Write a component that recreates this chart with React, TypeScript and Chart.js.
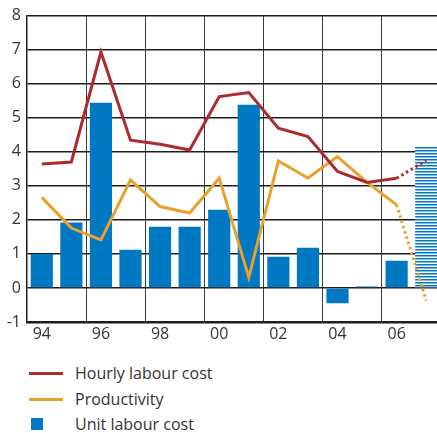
import React, { useEffect, useRef } from 'react';
import { Chart, registerables } from 'chart.js';

Chart.register(...registerables);

const years = ['94', '95', '96', '97', '98', '99', '00', '01', '02', '03', '04', '05', '06', '07'];
const unitLabourCost = [1.0, 1.92, 5.44, 1.12, 1.8, 1.8, 2.3, 5.38, 0.92, 1.18, -0.45, 0.04, 0.8, 4.15];
const hourlyLabourCost = [3.64, 3.7, 6.93, 4.34, 4.22, 4.05, 5.62, 5.74, 4.69, 4.45, 3.42, 3.1, 3.22, 3.75];
const productivity = [2.66, 1.76, 1.41, 3.17, 2.39, 2.2, 3.23, 0.31, 3.73, 3.23, 3.86, 3.1, 2.44, -0.37];
const forecastIndex = 13;
const yMin = -1;
const yMax = 8;

const BLUE = '#0079c2';
const RED = '#ad2a31';
const ORANGE = '#e8a12b';
const TEXT = '#333333';
const GRID = '#1e1e1e';
const FONT = '"Open Sans", sans-serif';

const legendItems = [
  { label: 'Hourly labour cost', color: RED, kind: 'line' },
  { label: 'Productivity', color: ORANGE, kind: 'line' },
  { label: 'Unit labour cost', color: BLUE, kind: 'box' },
];

function makeStripePattern(ctx: CanvasRenderingContext2D) {
  const c = document.createElement('canvas');
  c.width = 4;
  c.height = 3;
  const p = c.getContext('2d')!;
  p.fillStyle = '#ffffff';
  p.fillRect(0, 0, 4, 3);
  p.fillStyle = BLUE;
  p.fillRect(0, 0, 4, 1.5);
  return ctx.createPattern(c, 'repeat');
}

export default function App() {
  const ref = useRef<HTMLCanvasElement | null>(null);

  useEffect(() => {
    const canvas = ref.current!;
    const ctx = canvas.getContext('2d')!;
    const stripe = makeStripePattern(ctx);
    const barColors = unitLabourCost.map((_, i) => (i === forecastIndex ? stripe : BLUE));
    const dash = (c: any) => (c.p1DataIndex === forecastIndex ? [2.5, 3] : undefined);

    const chart = new Chart(ctx, {
      type: 'bar',
      data: {
        labels: years,
        datasets: [
          {
            type: 'line',
            label: 'Hourly labour cost',
            data: hourlyLabourCost,
            borderColor: RED,
            backgroundColor: RED,
            borderWidth: 3,
            pointRadius: 0,
            tension: 0,
            order: 1,
            segment: { borderDash: dash },
          } as any,
          {
            type: 'line',
            label: 'Productivity',
            data: productivity,
            borderColor: ORANGE,
            backgroundColor: ORANGE,
            borderWidth: 3,
            pointRadius: 0,
            tension: 0,
            order: 2,
            segment: { borderDash: dash },
          } as any,
          {
            type: 'bar',
            label: 'Unit labour cost',
            data: unitLabourCost,
            backgroundColor: barColors as any,
            borderWidth: 0,
            barPercentage: 0.75,
            categoryPercentage: 1,
            order: 3,
          },
        ],
      },
      options: {
        responsive: false,
        animation: false,
        layout: { padding: { top: 15, left: 0, right: 0, bottom: 0 } },
        plugins: {
          legend: { display: false },
          tooltip: { enabled: false },
        },
        scales: {
          x: {
            offset: true,
            afterFit: (s: any) => {
              s.height = 23;
            },
            grid: {
              offset: true,
              drawTicks: false,
              lineWidth: 1,
              color: (c: any) => (c.index % 2 === 0 ? '#3a3a3a' : 'rgba(0,0,0,0)'),
            },
            border: { display: true, color: GRID, width: 2.5 },
            ticks: {
              autoSkip: false,
              maxRotation: 0,
              padding: 3,
              color: TEXT,
              font: { family: FONT, size: 16 },
              callback: (_v: any, i: number) => (i % 2 === 0 && i < forecastIndex ? years[i] : ''),
            },
          },
          y: {
            min: yMin,
            max: yMax,
            afterFit: (s: any) => {
              s.width = 27;
            },
            grid: { drawTicks: false, color: GRID, lineWidth: 1.5 },
            border: { display: true, color: GRID, width: 1.5 },
            ticks: {
              stepSize: 1,
              padding: 6,
              color: TEXT,
              font: { family: FONT, size: 16 },
            },
          },
        },
      },
    });
    return () => chart.destroy();
  }, []);

  return (
    <div
      style={{
        position: 'fixed',
        left: 0,
        top: 0,
        width: 437,
        height: 433,
        overflow: 'hidden',
        background: '#ffffff',
      }}
    >
      <canvas ref={ref} width={441} height={345} style={{ position: 'absolute', left: 0, top: 0, width: 441, height: 345 }} />
      {legendItems.map((it, i) => {
        const cy = [373, 399, 424][i];
        return (
          <div key={it.label}>
            {it.kind === 'line' ? (
              <div style={{ position: 'absolute', left: 29, top: cy - 1.5, width: 34, height: 3, background: it.color }} />
            ) : (
              <div style={{ position: 'absolute', left: 31, top: cy - 6, width: 12, height: 12, background: it.color }} />
            )}
            <div
              style={{
                position: 'absolute',
                left: 75,
                top: cy - 12,
                height: 24,
                lineHeight: '24px',
                fontFamily: FONT,
                fontSize: 16,
                color: TEXT,
                whiteSpace: 'nowrap',
              }}
            >
              {it.label}
            </div>
          </div>
        );
      })}
    </div>
  );
}
